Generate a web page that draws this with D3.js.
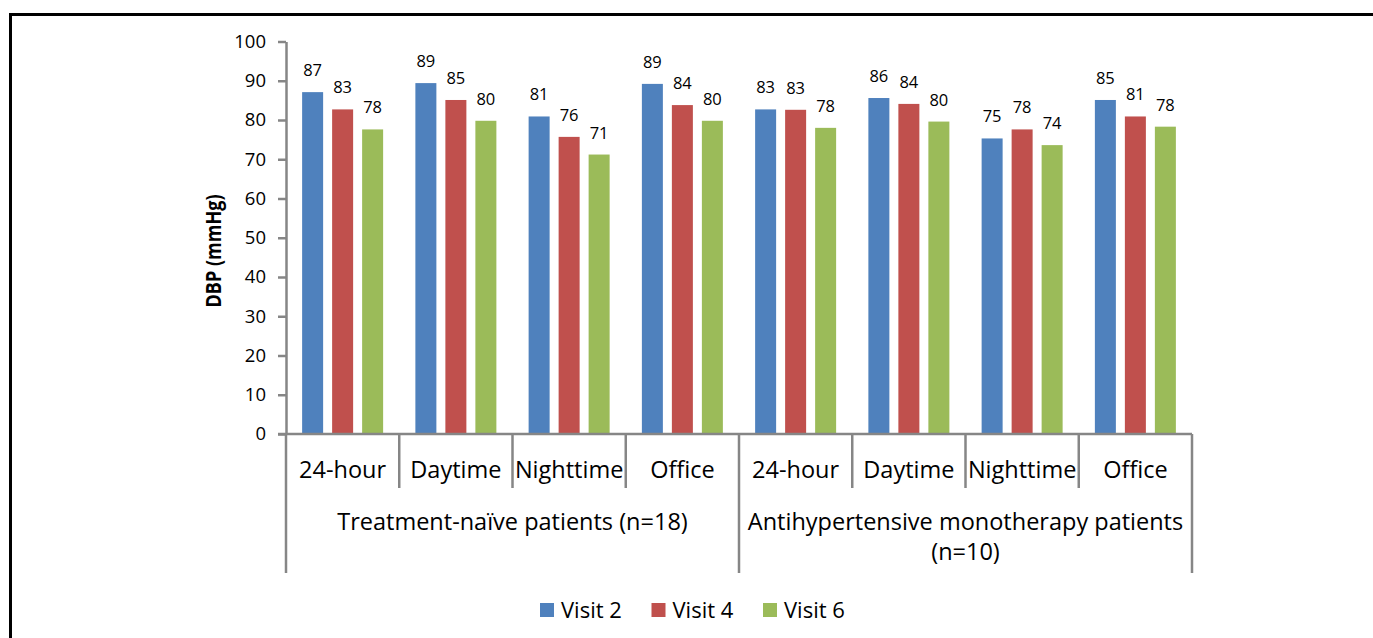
<!DOCTYPE html>
<html><head><meta charset="utf-8">
<script src="https://cdn.jsdelivr.net/npm/d3@7"></script>
<style>
html,body{margin:0;padding:0;background:#fff;}
svg{display:block;font-family:"Open Sans",sans-serif;}
</style></head>
<body>
<script>
const categories = ["24-hour","Daytime","Nighttime","Office"];
const groups = [["Treatment-naïve patients (n=18)"],["Antihypertensive monotherapy patients","(n=10)"]];
const seriesNames = ["Visit 2","Visit 4","Visit 6"];
const colors = ["#4F81BD","#C0504D","#9BBB59"];
const visit2 = [87.1, 89.4, 80.9, 89.2, 82.7, 85.6, 75.3, 85.1];
const visit4 = [82.7, 85.1, 75.7, 83.8, 82.6, 84.1, 77.6, 80.9];
const visit6 = [77.6, 79.8, 71.2, 79.8, 78.0, 79.6, 73.6, 78.3];
const yTicks = [0,10,20,30,40,50,60,70,80,90,100];

const W = 1373, H = 638;
const svg = d3.select("body").append("svg").attr("width", W).attr("height", H);

// outer frame
svg.append("rect").attr("x",10.5).attr("y",14.5).attr("width",1400).attr("height",700)
  .attr("fill","none").attr("stroke","#000").attr("stroke-width",3);

const x0 = 286, x1 = 1192, yTop = 41.5, yBot = 434;
const keys = d3.range(8);
const x = d3.scaleBand().domain(keys).range([x0, x1]).padding(0);
const y = d3.scaleLinear().domain([0,100]).range([yBot, yTop]);
const inner = d3.scaleBand().domain([0,1,2]).range([0, x.bandwidth()]).paddingInner(0.3).paddingOuter(0.5375);
const series = [visit2, visit4, visit6];

// y axis
const yAxis = svg.append("g").attr("transform",`translate(${x0},0)`)
  .call(d3.axisLeft(y).tickValues(yTicks).tickSize(8).tickSizeOuter(0).tickPadding(12));
yAxis.select(".domain").attr("stroke","#868686").attr("stroke-width",2.5);
yAxis.selectAll(".tick line").attr("stroke","#868686").attr("stroke-width",2.5);
yAxis.selectAll(".tick text").attr("font-family","'Open Sans',sans-serif").attr("font-size",18.5).attr("fill","#000");

// bars
series.forEach((vals, si) => {
  svg.append("g").selectAll("rect").data(vals).join("rect")
    .attr("x",(d,i)=>x(i)+inner(si))
    .attr("y",d=>y(d))
    .attr("width",inner.bandwidth())
    .attr("height",d=>yBot-y(d))
    .attr("fill",colors[si]);
  svg.append("g").selectAll("text").data(vals).join("text")
    .attr("x",(d,i)=>x(i)+inner(si)+inner.bandwidth()/2)
    .attr("y",d=>y(d)-16)
    .attr("text-anchor","middle")
    .attr("font-size",16.5).attr("fill","#000")
    .text(d=>Math.round(d));
});

// x axis line
svg.append("line").attr("x1",x0-8).attr("x2",x1).attr("y1",yBot).attr("y2",yBot)
  .attr("stroke","#868686").attr("stroke-width",2.5);
// dividers
const divs = d3.range(9);
svg.append("g").selectAll("line").data(divs).join("line")
  .attr("x1",i=> i<8 ? x(i) : x1).attr("x2",i=> i<8 ? x(i) : x1)
  .attr("y1",yBot).attr("y2",i=> i%4===0 ? 573 : 488)
  .attr("stroke","#868686").attr("stroke-width",2.5);

// category labels
svg.append("g").selectAll("text").data(keys).join("text")
  .attr("x",i=>x(i)+x.bandwidth()/2).attr("y",478)
  .attr("text-anchor","middle").attr("font-size",23.5).attr("fill","#000")
  .text(i=>categories[i%4]);

// group labels
groups.forEach((lines, g) => {
  const cx = (x(g*4) + (g===1 ? x1 : x(4)))/2;
  const t = svg.append("text").attr("text-anchor","middle").attr("font-size",23.5).attr("fill","#000");
  lines.forEach((ln, k) => t.append("tspan").attr("x",cx).attr("y",530 + k*30).text(ln));
});

// y title
svg.append("text").attr("transform",`translate(220.5,251) rotate(-90)`)
  .attr("text-anchor","middle").attr("font-weight","bold").attr("font-size",21).attr("fill","#000")
  .attr("textLength",113).attr("lengthAdjust","spacingAndGlyphs")
  .text("DBP (mmHg)");

// legend
const legX = [540, 651.5, 763];
const leg = svg.append("g");
seriesNames.forEach((n, i) => {
  leg.append("rect").attr("x",legX[i]).attr("y",603).attr("width",14).attr("height",14).attr("fill",colors[i]);
  leg.append("text").attr("x",legX[i]+21).attr("y",617.5).attr("font-size",22).attr("fill","#000").text(n);
});
</script>
</body></html>
